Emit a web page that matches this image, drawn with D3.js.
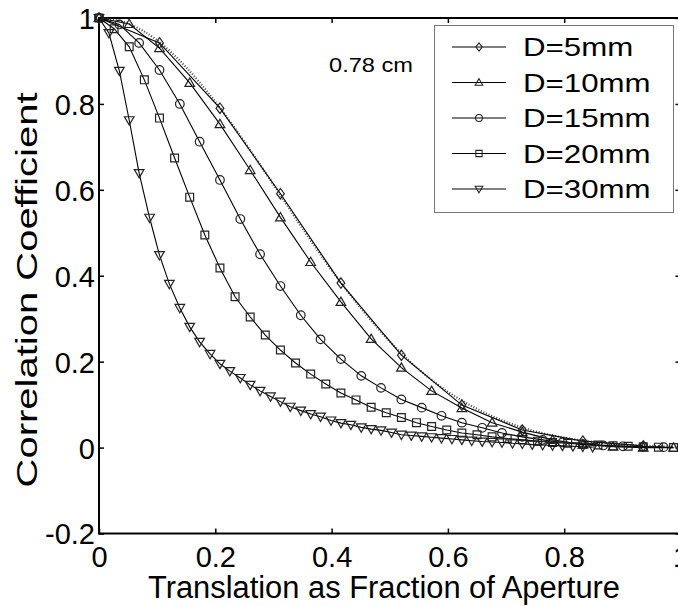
<!DOCTYPE html>
<html>
<head>
<meta charset="utf-8">
<script src="https://cdn.jsdelivr.net/npm/d3@7/dist/d3.min.js"></script>
<style>
  body { margin: 0; background: #fff; }
  text { font-family: "Liberation Sans", Arial, sans-serif; fill: #000; }
</style>
</head>
<body>
<svg id="chart"></svg>
<script>
// translation (fraction of aperture) and correlation
const d5x = [0, 0.104, 0.208, 0.312, 0.416, 0.52, 0.624, 0.728, 0.832, 0.936];
const d5y = [1, 0.942, 0.79, 0.591, 0.383, 0.215, 0.099, 0.041, 0.015, 0.004];

const d10x = [0, 0.052, 0.104, 0.156, 0.208, 0.26, 0.312, 0.364, 0.416, 0.468,
  0.52, 0.572, 0.624, 0.676, 0.728, 0.78, 0.832, 0.884, 0.936, 0.988];
const d10y = [1, 0.986, 0.93, 0.849, 0.753, 0.646, 0.536, 0.432, 0.339, 0.253,
  0.186, 0.132, 0.092, 0.058, 0.036, 0.018, 0.007, 0.002, 0, 0];

const d15x = [0, 0.035, 0.069, 0.104, 0.139, 0.173, 0.208, 0.243, 0.277, 0.312,
  0.347, 0.381, 0.416, 0.451, 0.485, 0.52, 0.555, 0.589, 0.624, 0.659,
  0.693, 0.728, 0.763, 0.797, 0.832, 0.867, 0.901, 0.936, 0.971];
const d15y = [1, 0.985, 0.942, 0.879, 0.8, 0.712, 0.623, 0.532, 0.45, 0.376,
  0.308, 0.252, 0.206, 0.167, 0.139, 0.112, 0.093, 0.074, 0.058, 0.046,
  0.034, 0.025, 0.018, 0.012, 0.008, 0.005, 0.003, 0.002, 0.001];

const d20x = [0, 0.026, 0.052, 0.078, 0.104, 0.13, 0.156, 0.182, 0.208, 0.234,
  0.26, 0.286, 0.312, 0.338, 0.364, 0.39, 0.416, 0.442, 0.468, 0.494,
  0.52, 0.546, 0.572, 0.598, 0.624, 0.65, 0.676, 0.702, 0.728, 0.754,
  0.78, 0.806, 0.832, 0.858, 0.884, 0.91, 0.936, 0.962, 0.988];
const d20y = [1, 0.975, 0.933, 0.856, 0.767, 0.674, 0.583, 0.495, 0.418, 0.351,
  0.304, 0.262, 0.227, 0.197, 0.171, 0.148, 0.127, 0.111, 0.094, 0.081,
  0.07, 0.058, 0.049, 0.041, 0.034, 0.03, 0.025, 0.021, 0.018, 0.015,
  0.012, 0.01, 0.008, 0.006, 0.004, 0.003, 0.002, 0.001, 0];

const d30x = [0, 0.017, 0.035, 0.052, 0.069, 0.087, 0.104, 0.121, 0.139, 0.156,
  0.173, 0.191, 0.208, 0.225, 0.243, 0.26, 0.277, 0.295, 0.312, 0.329,
  0.347, 0.364, 0.381, 0.399, 0.416, 0.433, 0.451, 0.468, 0.485, 0.503,
  0.52, 0.537, 0.555, 0.572, 0.589, 0.607, 0.624, 0.641, 0.659, 0.676,
  0.693, 0.711, 0.728, 0.745, 0.763, 0.78, 0.797, 0.815, 0.832, 0.849];
const d30y = [1, 0.965, 0.877, 0.762, 0.639, 0.535, 0.448, 0.381, 0.325, 0.281,
  0.246, 0.218, 0.195, 0.178, 0.162, 0.146, 0.132, 0.119, 0.107, 0.095,
  0.086, 0.078, 0.072, 0.063, 0.057, 0.053, 0.047, 0.043, 0.04, 0.035,
  0.03, 0.028, 0.026, 0.024, 0.022, 0.02, 0.018, 0.016, 0.014, 0.013,
  0.012, 0.01, 0.009, 0.007, 0.006, 0.005, 0.004, 0.003, 0.002, 0.001];

// dotted reference curve
const refX = [0, 0.05, 0.1, 0.15, 0.2, 0.25, 0.3, 0.35, 0.4, 0.45, 0.5,
  0.55, 0.6, 0.65, 0.7, 0.75, 0.8, 0.85, 0.9, 0.95, 1];
const refY = [1, 0.987, 0.948, 0.885, 0.805, 0.712, 0.612, 0.51, 0.413, 0.325, 0.247,
  0.182, 0.13, 0.09, 0.06, 0.038, 0.023, 0.013, 0.007, 0.004, 0.002];

const legendNames = ["D=5mm", "D=10mm", "D=15mm", "D=20mm", "D=30mm"];
const xTicks = [0, 0.2, 0.4, 0.6, 0.8, 1];
const yTicks = [-0.2, 0, 0.2, 0.4, 0.6, 0.8, 1];

const series = [
  { name: legendNames[0], x: d5x, y: d5y, marker: "diamond" },
  { name: legendNames[1], x: d10x, y: d10y, marker: "triUp" },
  { name: legendNames[2], x: d15x, y: d15y, marker: "circle" },
  { name: legendNames[3], x: d20x, y: d20y, marker: "square" },
  { name: legendNames[4], x: d30x, y: d30y, marker: "triDown" },
];

const markerPath = {
  diamond: "M0,-5.2L3.9,0L0,5.2L-3.9,0Z",
  triUp: "M0,-4.8L4.8,3.5L-4.8,3.5Z",
  circle: "M4.3,0A4.3,4.3 0 1,1 -4.3,0A4.3,4.3 0 1,1 4.3,0Z",
  square: "M-3.9,-3.9H3.9V3.9H-3.9Z",
  triDown: "M0,4.8L4.8,-3.5L-4.8,-3.5Z",
};

const W = 678, H = 606;
const margin = { top: 18, left: 99, right: -2.5, bottom: 72.5 };

const svg = d3.select("#chart").attr("width", W).attr("height", H);

const x = d3.scaleLinear().domain([0, 1]).range([margin.left, W - margin.right]);
const y = d3.scaleLinear().domain([-0.2, 1]).range([H - margin.bottom, margin.top]);

const fmt = d => String(+d.toFixed(1));

// axes, ticks pointing inward
const gx = svg.append("g")
  .attr("transform", `translate(0,${y(-0.2)})`)
  .call(d3.axisBottom(x).tickValues(xTicks).tickFormat(fmt).tickSizeInner(-5).tickSizeOuter(0));
gx.selectAll("text").attr("y", 33.5).attr("dy", 0).style("font-size", "29px");

svg.append("g")
  .attr("transform", `translate(0,${y(1)})`)
  .call(d3.axisTop(x).tickValues(xTicks).tickFormat("").tickSizeInner(-5).tickSizeOuter(0));

const gy = svg.append("g")
  .attr("transform", `translate(${x(0)},0)`)
  .call(d3.axisLeft(y).tickValues(yTicks).tickFormat(fmt).tickSizeInner(-5).tickSizeOuter(0));
gy.selectAll("text").attr("x", -4).attr("dy", "0.36em").style("font-size", "29px");

svg.append("g")
  .attr("transform", `translate(${x(1)},0)`)
  .call(d3.axisRight(y).tickValues(yTicks).tickFormat("").tickSizeInner(-5).tickSizeOuter(0));

svg.selectAll(".domain").remove();
svg.selectAll(".tick line").attr("stroke", "#000").attr("stroke-width", 1.5);

svg.append("rect")
  .attr("x", x(0)).attr("y", y(1))
  .attr("width", x(1) - x(0)).attr("height", y(-0.2) - y(1))
  .attr("fill", "none").attr("stroke", "#000").attr("stroke-width", 2);

// dotted curve
svg.append("path")
  .datum(refX.map((v, i) => [v, refY[i]]))
  .attr("fill", "none")
  .attr("stroke", "#444")
  .attr("stroke-width", 2.2)
  .attr("stroke-dasharray", "1,1.8")
  .attr("d", d3.line().x(d => x(d[0])).y(d => y(d[1])).curve(d3.curveMonotoneX));

const line = d3.line().x(d => x(d[0])).y(d => y(d[1]));

series.forEach(s => {
  const pts = s.x.map((v, i) => [v, s.y[i]]);
  const g = svg.append("g");
  g.append("path")
    .datum(pts)
    .attr("fill", "none")
    .attr("stroke", "#000")
    .attr("stroke-width", 1.1)
    .attr("d", line);
  g.selectAll("path.mk")
    .data(pts)
    .enter()
    .append("path")
    .attr("class", "mk")
    .attr("transform", d => `translate(${x(d[0])},${y(d[1])})`)
    .attr("d", markerPath[s.marker])
    .attr("fill", "none")
    .attr("stroke", "#222")
    .attr("stroke-width", 1.2);
});

// annotation
svg.append("text")
  .attr("x", 329).attr("y", 72)
  .style("font-size", "20px")
  .attr("textLength", 84).attr("lengthAdjust", "spacingAndGlyphs")
  .text("0.78 cm");

// legend
const lg = svg.append("g");
lg.append("rect")
  .attr("x", 434.5).attr("y", 25.5).attr("width", 239).attr("height", 187)
  .attr("fill", "#fff").attr("stroke", "#777").attr("stroke-width", 1);

series.forEach((s, i) => {
  const ly = 47 + i * 35.5;
  lg.append("line")
    .attr("x1", 452).attr("x2", 506).attr("y1", ly).attr("y2", ly)
    .attr("stroke", "#000").attr("stroke-width", 1);
  lg.append("path")
    .attr("transform", `translate(479,${ly}) scale(0.8)`)
    .attr("d", markerPath[s.marker])
    .attr("fill", "none").attr("stroke", "#222").attr("stroke-width", 1.3);
  const t = lg.append("text")
    .attr("x", 523).attr("y", ly + 9)
    .style("font-size", "25px")
    .text(s.name);
  const w = t.node().getComputedTextLength();
  t.attr("textLength", w * 1.25).attr("lengthAdjust", "spacingAndGlyphs");
});

// axis titles
svg.append("text")
  .attr("x", 384).attr("y", 598)
  .attr("text-anchor", "middle")
  .style("font-size", "31px")
  .attr("textLength", 472).attr("lengthAdjust", "spacingAndGlyphs")
  .text("Translation as Fraction of Aperture");

svg.append("text")
  .attr("transform", "translate(37,290) rotate(-90)")
  .attr("text-anchor", "middle")
  .style("font-size", "30px")
  .attr("textLength", 395).attr("lengthAdjust", "spacingAndGlyphs")
  .text("Correlation Coefficient");
</script>
</body>
</html>
